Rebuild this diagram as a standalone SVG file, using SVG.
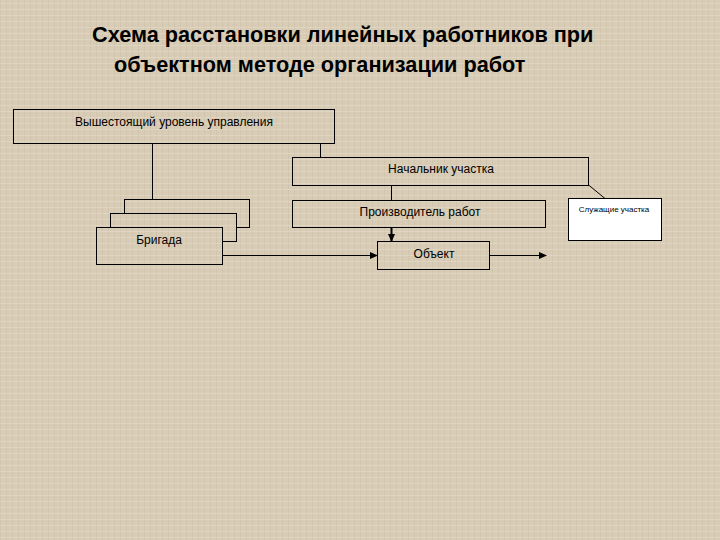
<svg xmlns="http://www.w3.org/2000/svg" width="720" height="540" viewBox="0 0 720 540">
<defs>
<style>
.box{fill:none;stroke:#000;stroke-width:1}
.lbl{font-family:"Liberation Sans",Arial,sans-serif;font-size:12px;fill:#000;text-anchor:middle}
.ttl{font-family:"Liberation Sans",Arial,sans-serif;font-size:21.7px;font-weight:bold;fill:#000}
.con{fill:none;stroke:#000;stroke-width:1}
</style>
<marker id="ah" markerWidth="8" markerHeight="8" refX="7" refY="4" orient="auto" markerUnits="userSpaceOnUse">
<path d="M0,0.5 L8,4 L0,7.5 Z" fill="#000"/>
</marker>
<pattern id="tex" width="6" height="6" patternUnits="userSpaceOnUse">
<rect width="6" height="6" fill="#d8ccb7"/>
<rect x="0" y="0" width="1" height="6" fill="#cdbfa7" opacity="0.6"/>
<rect x="0" y="3" width="6" height="1" fill="#e4dac8" opacity="0.6"/>
</pattern>
</defs>
<rect width="720" height="540" fill="url(#tex)"/>
<text class="ttl" x="92" y="42">Схема расстановки линейных работников при</text>
<text class="ttl" x="114" y="72">объектном методе организации работ</text>
<g id="connectors">
<line class="con" x1="152.5" y1="143" x2="152.5" y2="199"/>
<line class="con" x1="320.5" y1="143" x2="320.5" y2="157"/>
<line class="con" x1="391.5" y1="185" x2="391.5" y2="200"/>
<line class="con" x1="588" y1="184.5" x2="605" y2="198.5"/>
<line x1="391.5" y1="227" x2="391.5" y2="241" stroke="#000" stroke-width="2" marker-end="url(#ah)"/>
<line class="con" x1="222" y1="255.5" x2="377" y2="255.5" marker-end="url(#ah)"/>
<line class="con" x1="489" y1="255.5" x2="546" y2="255.5" marker-end="url(#ah)"/>
</g>
<g id="upper">
<rect class="box" x="13.5" y="109.5" width="321" height="34"/>
<text class="lbl" x="174" y="126">Вышестоящий уровень управления</text>
</g>
<g id="chief">
<rect class="box" x="292.5" y="157.5" width="296" height="28"/>
<text class="lbl" x="441" y="172.5">Начальник участка</text>
</g>
<g id="foreman">
<rect class="box" x="292.5" y="200.5" width="253" height="27"/>
<text class="lbl" x="420" y="215.5">Производитель работ</text>
</g>
<g id="object">
<rect class="box" x="377.5" y="241.5" width="112" height="28"/>
<text class="lbl" x="434" y="257.5">Объект</text>
</g>
<g id="staff">
<rect x="568.5" y="198.5" width="93" height="42" fill="#fff" stroke="#000" stroke-width="1"/>
<text class="lbl" x="614" y="211.5" style="font-size:8px">Служащие участка</text>
</g>
<g id="brigade">
<rect class="box" x="124.5" y="199.5" width="125" height="28"/>
<rect x="110.5" y="213.5" width="126" height="28" fill="url(#tex)" stroke="#000" stroke-width="1"/>
<rect x="96.5" y="227.5" width="126" height="37" fill="url(#tex)" stroke="#000" stroke-width="1"/>
<text class="lbl" x="159" y="243.5">Бригада</text>
</g>
</svg>
